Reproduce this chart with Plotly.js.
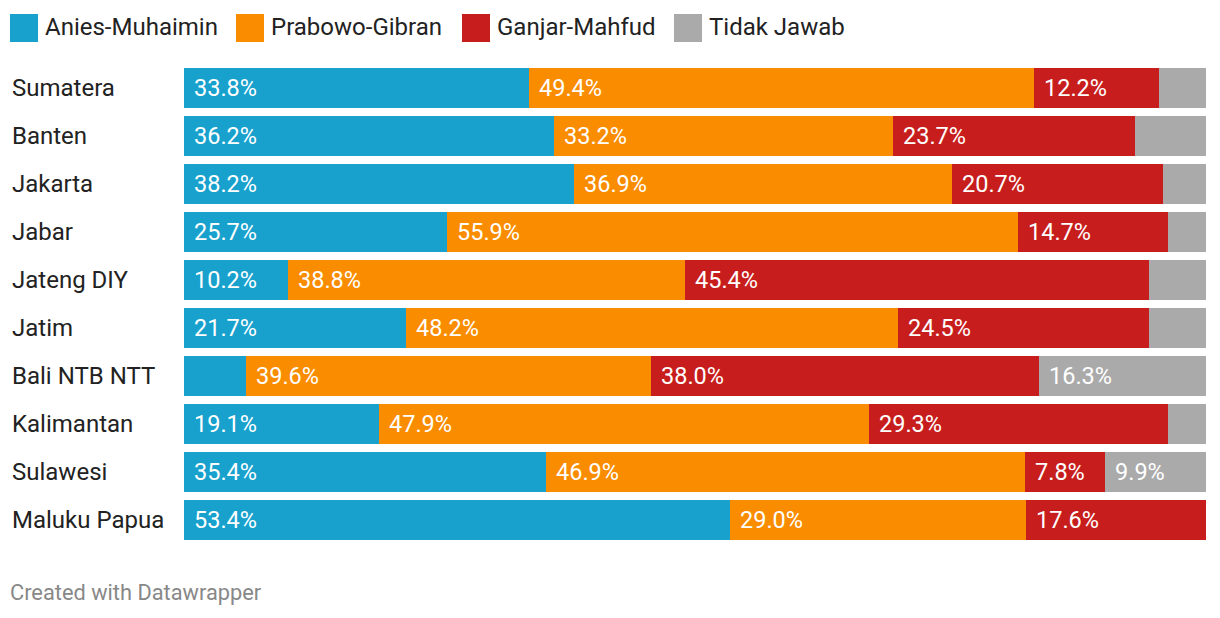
<!DOCTYPE html>
<html>
<head>
<meta charset="utf-8">
<script src="https://cdn.plot.ly/plotly-3.0.1.min.js"></script>
<style>
html,body{margin:0;padding:0;background:#fff;}
#chart{width:1220px;height:618px;}
</style>
</head>
<body>
<div id="chart"></div>
<script>
const regions = ["Sumatera","Banten","Jakarta","Jabar","Jateng DIY","Jatim","Bali NTB NTT","Kalimantan","Sulawesi","Maluku Papua"];
const seriesNames = ["Anies-Muhaimin","Prabowo-Gibran","Ganjar-Mahfud","Tidak Jawab"];
const aniesMuhaimin = [33.8,36.2,38.2,25.7,10.2,21.7,6.1,19.1,35.4,53.4];
const prabowoGibran = [49.4,33.2,36.9,55.9,38.8,48.2,39.6,47.9,46.9,29.0];
const ganjarMahfud  = [12.2,23.7,20.7,14.7,45.4,24.5,38.0,29.3,7.8,17.6];
const tidakJawab    = [4.6,6.9,4.2,3.7,5.6,5.6,16.3,3.7,9.9,0];
const seriesValues = [aniesMuhaimin, prabowoGibran, ganjarMahfud, tidakJawab];
const colors = ["#18a1cd","#fa8c00","#c71e1d","#aaaaaa"];
const FONT = "Roboto, 'Noto Sans', sans-serif";

const yIdx = regions.map((_, i) => i);
const traces = seriesValues.map((vals, s) => ({
  type: "bar",
  orientation: "h",
  name: seriesNames[s],
  x: vals,
  y: yIdx,
  width: 0.8333,
  marker: {color: colors[s], line: {width: 0}},
  hoverinfo: "skip",
  showlegend: false
}));

const annotations = [];
regions.forEach((r, j) => {
  let start = 0;
  seriesValues.forEach((vals, s) => {
    const v = vals[j];
    if (v >= 7.5) {
      annotations.push({
        x: start, y: j, xref: "x", yref: "y",
        text: v.toFixed(1) + "%",
        showarrow: false, xanchor: "left", yanchor: "middle", xshift: 8,
        font: {family: FONT, size: 23.5, color: "#ffffff"}
      });
    }
    start += v;
  });
  annotations.push({
    x: -174/1022, y: j, xref: "paper", yref: "y",
    text: r, showarrow: false, xanchor: "left", yanchor: "middle",
    font: {family: FONT, size: 24, color: "#222222"}
  });
});

const legendX = [10, 236, 462, 674];
const shapes = [];
seriesNames.forEach((n, s) => {
  shapes.push({
    type: "rect", xref: "paper", yref: "paper",
    x0: (legendX[s]-184)/1022, x1: (legendX[s]+28-184)/1022,
    y0: (544-14)/480, y1: (544-42)/480,
    fillcolor: colors[s], line: {width: 0}
  });
  annotations.push({
    x: (legendX[s]+33-184)/1022, y: (544-27)/480, xref: "paper", yref: "paper",
    text: n, showarrow: false, xanchor: "left", yanchor: "middle",
    font: {family: FONT, size: 24, color: "#222222"}
  });
});

annotations.push({
  x: (8-184)/1022, y: (544-592)/480, xref: "paper", yref: "paper",
  text: "Created with Datawrapper", showarrow: false, xanchor: "left", yanchor: "middle",
  font: {family: FONT, size: 21.8, color: "#888888"}
});

const layout = {
  width: 1220, height: 618,
  margin: {l: 184, r: 14, t: 64, b: 74, pad: 0},
  barmode: "stack",
  bargap: 0,
  paper_bgcolor: "#ffffff",
  plot_bgcolor: "#ffffff",
  xaxis: {range: [0, 100], visible: false, fixedrange: true},
  yaxis: {range: [9.5, -0.5], visible: false, fixedrange: true},
  showlegend: false,
  shapes: shapes,
  annotations: annotations,
  font: {family: FONT}
};

Plotly.newPlot("chart", traces, layout, {displayModeBar: false, staticPlot: true});
</script>
</body>
</html>
